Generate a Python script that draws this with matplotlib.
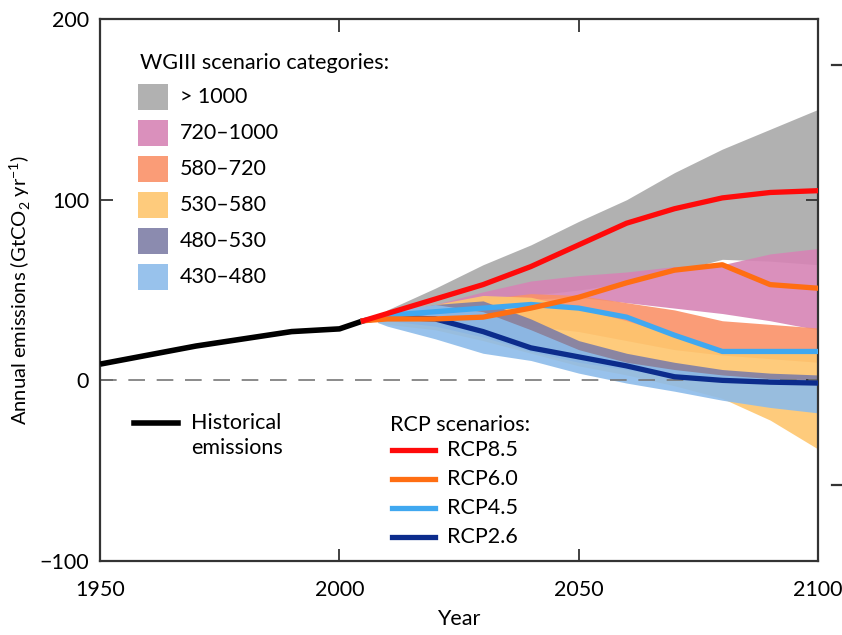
import matplotlib
matplotlib.use("Agg")
import matplotlib.pyplot as plt
from matplotlib.patches import Rectangle
from matplotlib.lines import Line2D

plt.rcParams['font.family'] = ['Lato', 'DejaVu Sans']
plt.rcParams['mathtext.fontset'] = 'custom'
plt.rcParams['mathtext.rm'] = 'Lato'

# historical emissions
hist_years = [1950, 1960, 1970, 1980, 1990, 2000, 2005]
hist_vals = [9, 14, 19, 23, 27, 28.5, 33]

# RCP pathways
rcp_years = [2005, 2010, 2020, 2030, 2040, 2050, 2060, 2070, 2080, 2090, 2100]
rcp85 = [33, 37, 45, 53, 63, 75, 87, 95, 101, 104, 105]
rcp60 = [33, 34, 34, 35, 40, 46, 54, 61, 64, 53, 51]
rcp45 = [33, 36, 38, 40, 42, 40, 35, 25, 16, 16, 16]
rcp26 = [33, 35, 34, 27, 18, 13, 8, 2, 0, -1, -1.5]

# WGIII scenario category ranges (lower, upper)
band_years = [2008, 2010, 2020, 2030, 2040, 2050, 2060, 2070, 2080, 2090, 2100]
gt1000_lo = [34, 35, 40, 44, 47, 50, 54, 60, 67, 66, 64]
gt1000_hi = [35, 39, 51, 64, 75, 88, 100, 115, 128, 139, 150]
c720_lo = [34, 35, 38, 42, 45, 46, 43, 40, 37, 33, 28]
c720_hi = [35, 37, 42, 49, 55, 58, 60, 63, 64, 70, 73]
c580_lo = [33, 33, 34, 33, 30, 27, 22, 17, 14, 12, 10]
c580_hi = [34, 36, 40, 45, 48, 47, 43, 39, 33, 31, 29]
c530_lo = [32, 31, 28, 22, 15, 8, 3, -3, -10, -22, -38]
c530_hi = [34, 36, 42, 47, 46, 40, 33, 25, 17, 16, 15]
c480_lo = [33, 33, 30, 24, 16, 10, 6, 2, 0, -1, -2]
c480_hi = [34, 37, 42, 44, 34, 22, 15, 10, 6, 4, 3]
c430_lo = [32, 30, 23, 15, 11, 4, -1.5, -6, -11, -15, -18]
c430_hi = [34, 38, 42, 38, 28, 17, 10, 6, 3, 1, 0]

cat_labels = ['> 1000', '720\u20131000', '580\u2013720', '530\u2013580', '480\u2013530', '430\u2013480']
cat_colors = ['#a9a9a9', '#d684b5', '#fa9168', '#fec66e', '#7f7ea6', '#8dbcea']
cat_lo = [gt1000_lo, c720_lo, c580_lo, c530_lo, c480_lo, c430_lo]
cat_hi = [gt1000_hi, c720_hi, c580_hi, c530_hi, c480_hi, c430_hi]

rcp_labels = ['RCP8.5', 'RCP6.0', 'RCP4.5', 'RCP2.6']
rcp_colors = ['#ff0a0a', '#ff6e12', '#40a8f0', '#0c2c8c']
rcp_series = [rcp85, rcp60, rcp45, rcp26]

FS = 15.5

fig = plt.figure(figsize=(8.42, 6.35), dpi=100)
ax = fig.add_axes([0.119, 0.1165, 0.8525, 0.8535])

for lo, hi, col in zip(cat_lo, cat_hi, cat_colors):
    ax.fill_between(band_years, lo, hi, color=col, alpha=0.9, lw=0, zorder=1)

ax.axhline(0, color='#777777', lw=1.2, dashes=(10, 7), zorder=2)

ax.plot(hist_years, hist_vals, color='black', lw=4, solid_capstyle='butt', zorder=3)
for vals, col in reversed(list(zip(rcp_series, rcp_colors))):
    ax.plot(rcp_years, vals, color=col, lw=3.8, solid_joinstyle='round', zorder=4)

ax.set_xlim(1950, 2100)
ax.set_ylim(-100, 200)
ax.set_xticks([1950, 2000, 2050, 2100])
ax.set_yticks([-100, 0, 100, 200])
ax.set_yticklabels(['\u2212100', '0', '100', '200'])
ax.tick_params(direction='in', length=9, width=1.3, labelsize=FS, top=True, right=True,
               color='#333333', pad=8)
ax.tick_params(axis='x', pad=14)
for s in ax.spines.values():
    s.set_linewidth(1.6)
    s.set_color('#333333')
ax.set_xlabel('Year', fontsize=FS, labelpad=6)
ax.set_ylabel('Annual emissions (GtCO$_2$ yr$^{-1}$)', fontsize=14.5, labelpad=5)


def fx(px):
    return (px - 100) / 718


def fy(py):
    return (561 - py) / 542


# category legend
ax.text(fx(140), fy(63), 'WGIII scenario categories:', transform=ax.transAxes,
        fontsize=FS, va='center', ha='left', zorder=6)
for i, (lab, col) in enumerate(zip(cat_labels, cat_colors)):
    yc = 97 + i * 36
    ax.add_patch(Rectangle((fx(138), fy(yc + 13)), fx(168) - fx(138), fy(yc - 13) - fy(yc + 13),
                           transform=ax.transAxes, color=col, alpha=0.9, lw=0, zorder=6))
    ax.text(fx(180), fy(yc), lab, transform=ax.transAxes, fontsize=FS,
            va='center', ha='left', zorder=6)

# historical legend
ax.add_line(Line2D([fx(134), fx(178)], [fy(423), fy(423)], transform=ax.transAxes,
                   color='black', lw=4, zorder=6))
ax.text(fx(191), fy(423), 'Historical', transform=ax.transAxes, fontsize=FS, va='center', zorder=6)
ax.text(fx(191), fy(448), 'emissions', transform=ax.transAxes, fontsize=FS, va='center', zorder=6)

# RCP legend
ax.text(fx(390), fy(425), 'RCP scenarios:', transform=ax.transAxes, fontsize=FS, va='center', zorder=6)
for i, (lab, col) in enumerate(zip(rcp_labels, rcp_colors)):
    yc = 450 + i * 29
    ax.add_line(Line2D([fx(392), fx(435)], [fy(yc), fy(yc)], transform=ax.transAxes,
                       color=col, lw=3.8, zorder=6))
    ax.text(fx(447), fy(yc), lab, transform=ax.transAxes, fontsize=FS, va='center', zorder=6)

# fragments of the neighbouring panel at the right edge
for py in (65, 485):
    fig.add_artist(Line2D([832 / 842, 842 / 842], [1 - py / 635, 1 - py / 635],
                          color='#333333', lw=1.6))

fig.savefig('out.png', dpi=100)
